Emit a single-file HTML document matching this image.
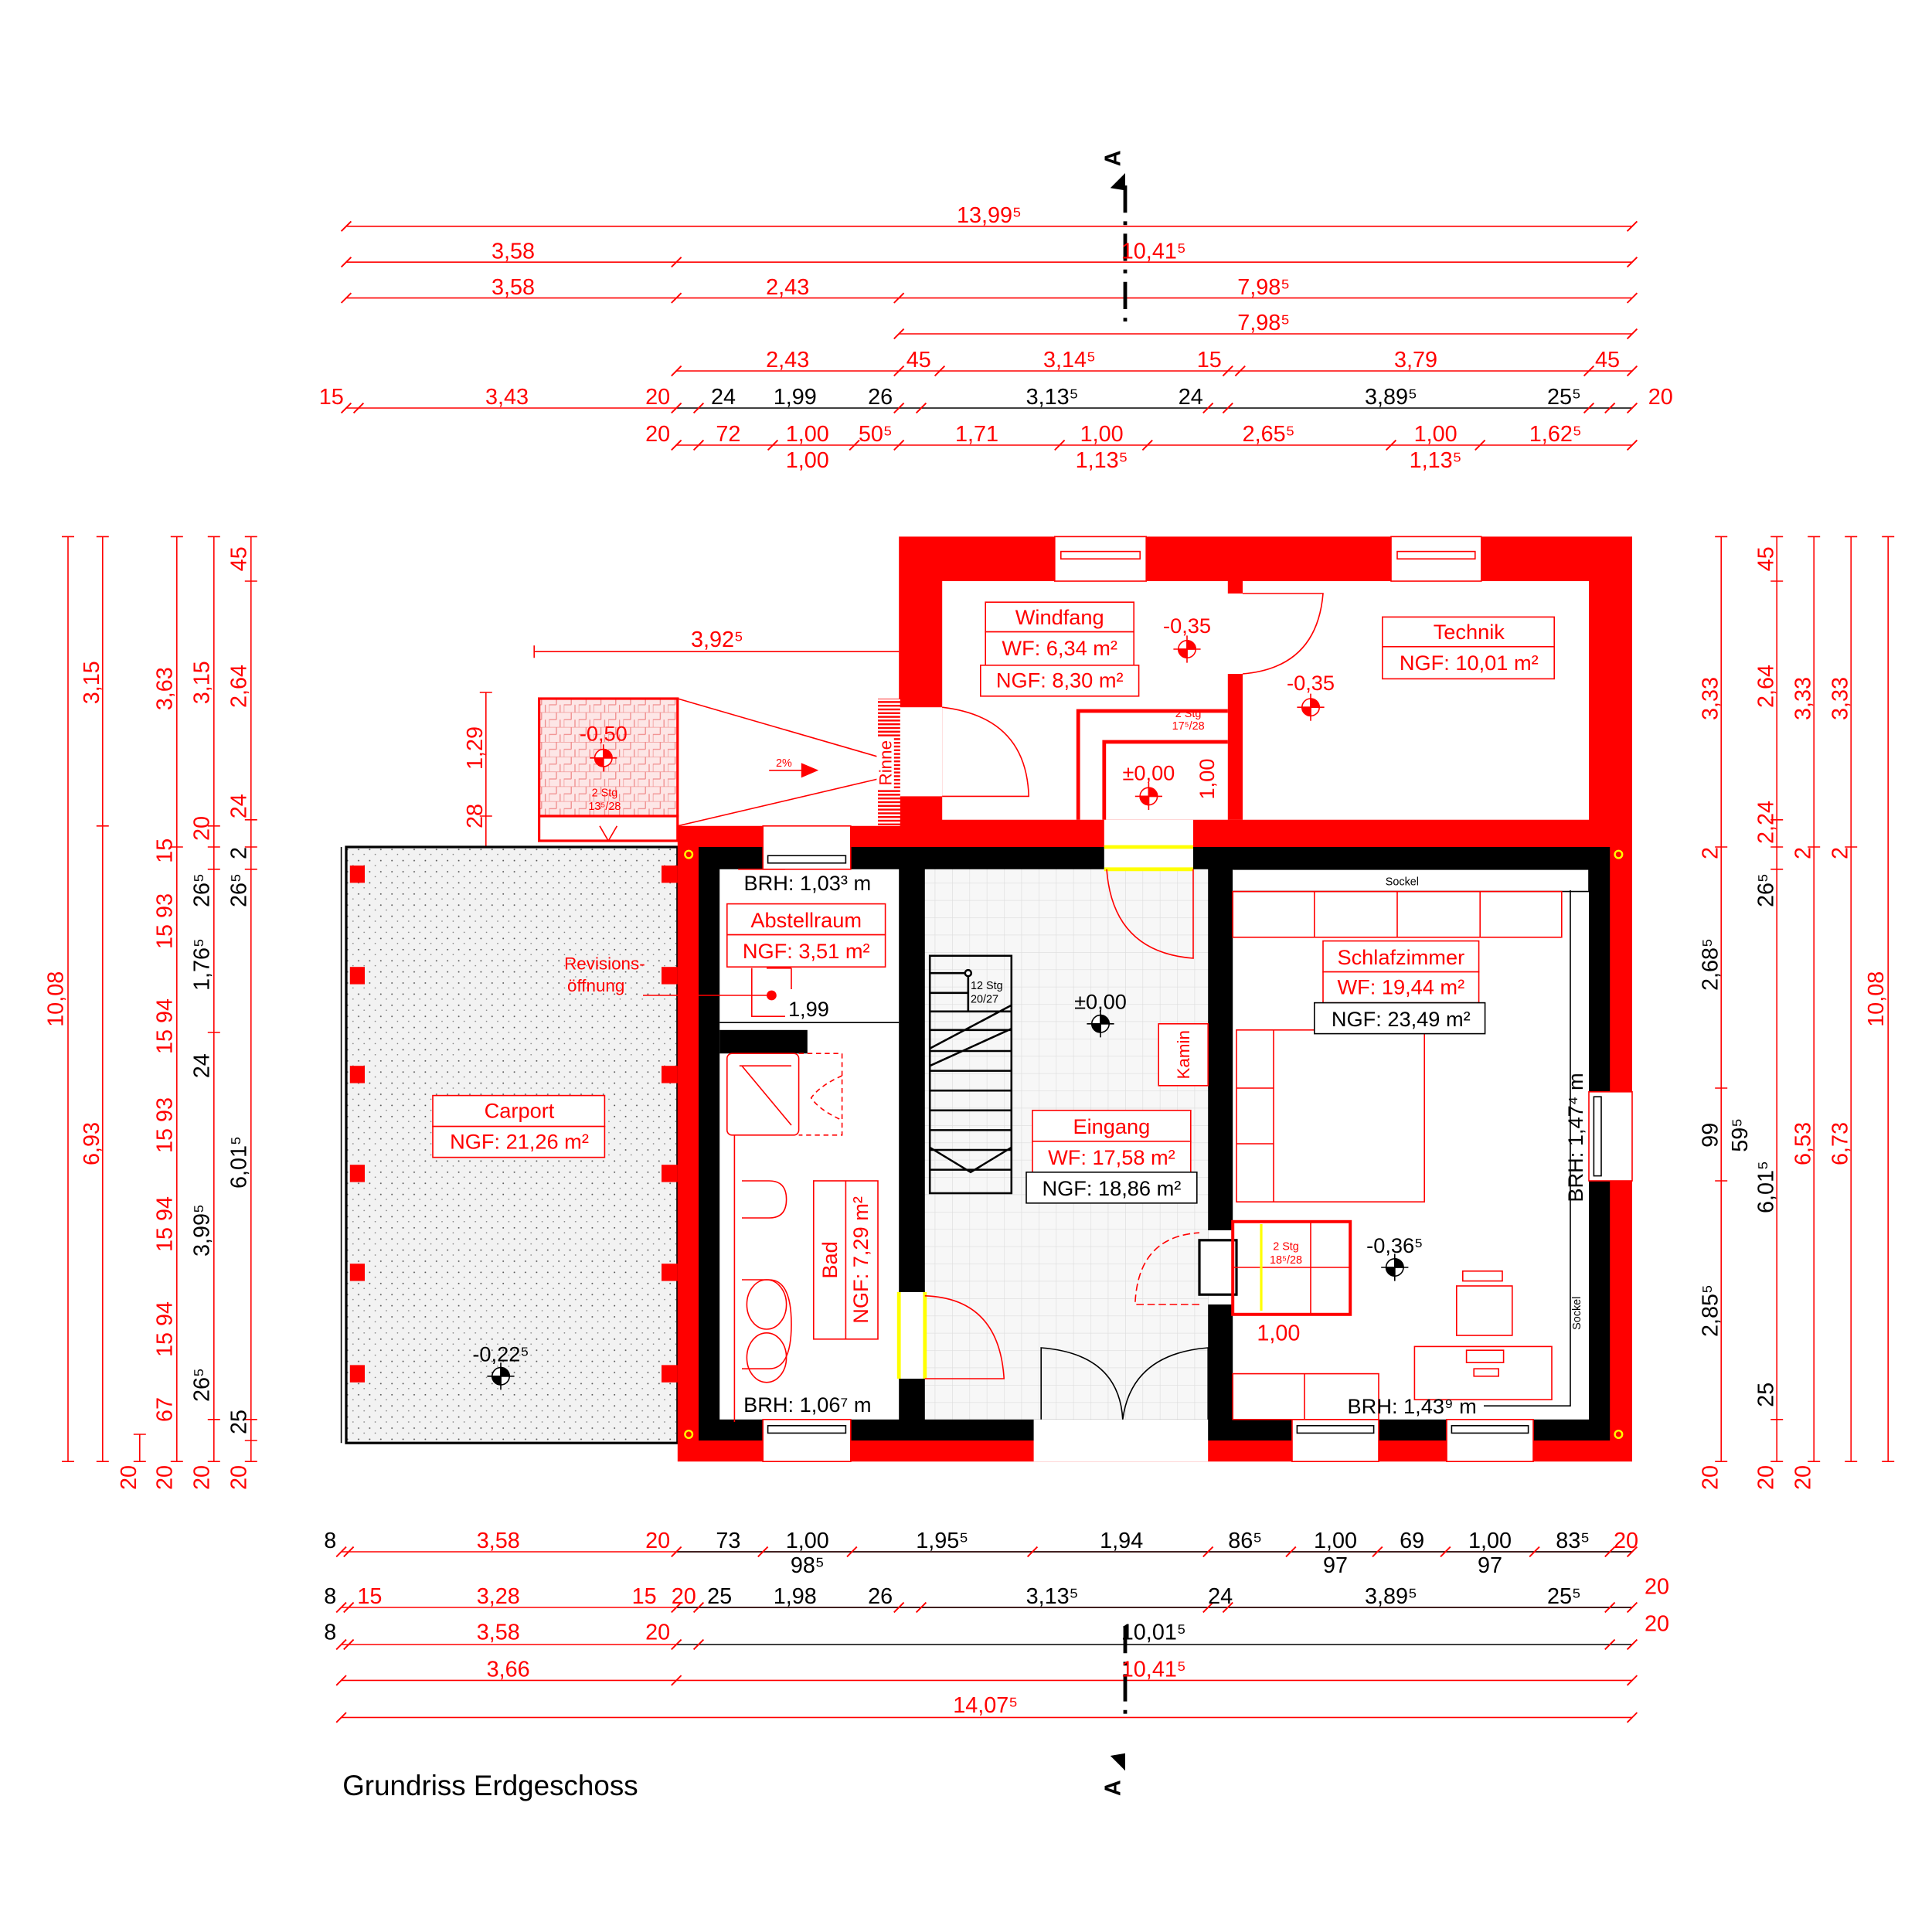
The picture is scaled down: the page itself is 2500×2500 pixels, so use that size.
<!DOCTYPE html>
<html><head><meta charset="utf-8"><style>html,body{margin:0;padding:0;background:#fff}svg{display:block}text{font-family:"Liberation Sans",sans-serif}</style></head><body>
<svg xmlns="http://www.w3.org/2000/svg" width="2500" height="2500" viewBox="0 0 1562.5 1562.5">
<defs>
<pattern id="dots" width="9" height="9" patternUnits="userSpaceOnUse"><rect width="9" height="9" fill="#f2f2f2"/><circle cx="2" cy="3" r="0.6" fill="#555"/><circle cx="6.5" cy="7" r="0.5" fill="#777"/></pattern>
<pattern id="tile" width="14" height="14" patternUnits="userSpaceOnUse"><rect width="14" height="14" fill="#f7f7f7"/><path d="M0 0H14M0 0V14" stroke="#ddd" stroke-width="0.8"/></pattern>
<pattern id="pink" width="12" height="12" patternUnits="userSpaceOnUse"><rect width="12" height="12" fill="#fde6e6"/><path d="M0 0H12M0 6H6M6 0V6M0 6V12M9 6V12" stroke="#f08a8a" stroke-width="0.8"/></pattern>
<pattern id="rinne" width="12" height="3" patternUnits="userSpaceOnUse"><rect width="12" height="3" fill="#fff"/><rect width="12" height="1.5" fill="red"/></pattern>
<g id="m" stroke="#000" stroke-width="1"><circle r="7" fill="#fff"/><path d="M-11 0H11M0-11V11"/><path d="M0-7A7 7 0 0 1 7 0H0ZM0 7A7 7 0 0 1-7 0H0Z" fill="#000"/></g>
<g id="r" stroke="red" stroke-width="1"><circle r="7" fill="#fff"/><path d="M-11 0H11M0-11V11"/><path d="M0-7A7 7 0 0 1 7 0H0ZM0 7A7 7 0 0 1-7 0H0Z" fill="red"/></g>
</defs>
<g fill="none" stroke="red" stroke-width="1">
<path d="M280 183H1320M280 212H1320M280 241H1320M727 270H1320M547 300H1320M280 330H547M547 360H1320"/>
<path d="M547 330H1320" stroke="#000"/>
<path d="M276 1255H1320M276 1300H1320M276 1330H547M276 1359H1320M276 1389H1320"/>
<path d="M547 1255H1320M547 1300H1320M547 1330H1320" stroke="#000"/>
<g stroke-width="1.2">
<path d="M276 187l8-8M1316 187l8-8M276 216l8-8M543 216l8-8M1316 216l8-8M276 245l8-8M543 245l8-8M723 245l8-8M1316 245l8-8M723 274l8-8M1316 274l8-8M543 304l8-8M723 304l8-8M756 304l8-8M989 304l8-8M999 304l8-8M1281 304l8-8M1316 304l8-8M276 334l8-8M286 334l8-8M543 334l8-8M561 334l8-8M723 334l8-8M741 334l8-8M973 334l8-8M989 334l8-8M1281 334l8-8M1298 334l8-8M1316 334l8-8M543 364l8-8M561 364l8-8M621 364l8-8M687 364l8-8M723 364l8-8M853 364l8-8M924 364l8-8M1121 364l8-8M1193 364l8-8M1316 364l8-8"/>
<path d="M272 1259l8-8M278 1259l8-8M543 1259l8-8M613 1259l8-8M685 1259l8-8M831 1259l8-8M973 1259l8-8M1040 1259l8-8M1110 1259l8-8M1165 1259l8-8M1237 1259l8-8M1298 1259l8-8M1316 1259l8-8M272 1304l8-8M278 1304l8-8M543 1304l8-8M561 1304l8-8M723 1304l8-8M741 1304l8-8M973 1304l8-8M989 1304l8-8M1298 1304l8-8M1316 1304l8-8M272 1334l8-8M278 1334l8-8M543 1334l8-8M561 1334l8-8M1298 1334l8-8M1316 1334l8-8M272 1363l8-8M543 1363l8-8M1316 1363l8-8M272 1393l8-8M1316 1393l8-8"/>
</g>
<path d="M55 434V1182M83 434V1182M113 1160V1182M143 434V1182M173 434V1182M203 434V1182"/>
<path d="M50 434h10M50 1182h10M78 434h10M78 668h10M78 1182h10M138 434h10M138 685h10M138 1182h10M168 434h10M168 668h10M168 685h10M168 703h10M168 835h10M168 1148h10M168 1182h10M198 434h10M198 470h10M198 663h10M198 685h10M198 703h10M198 1148h10M198 1165h10M198 1182h10M108 1160h10M108 1182h10"/>
<path d="M1392 434V1182M1437 434V1182M1467 434V1182M1497 434V1182M1527 434V1182"/>
<path d="M1387 434h10M1387 685h10M1387 880h10M1387 955h10M1387 1182h10M1432 434h10M1432 470h10M1432 663h10M1432 685h10M1432 703h10M1432 1148h10M1432 1182h10M1462 434h10M1462 685h10M1462 1182h10M1492 434h10M1492 685h10M1492 1182h10M1522 434h10M1522 1182h10"/>
<path d="M393 560V685M388 560h10M388 660h10M388 685h10"/>
<path d="M432 527H727M432 522v10"/>
</g>
<path d="M910 150V260M910 1315V1390" stroke="#000" stroke-width="3" stroke-dasharray="22,7,3,7"/>
<path d="M898 152l12-12v14zM898 1420l12 12v-14z" fill="#000"/>
<text x="906" y="128" font-size="18" font-weight="bold" transform="rotate(-90 906 128)" text-anchor="middle">A</text>
<text x="906" y="1446" font-size="18" font-weight="bold" transform="rotate(-90 906 1446)" text-anchor="middle">A</text>

<rect x="280" y="685" width="268" height="482" fill="url(#dots)" stroke="#000" stroke-width="2"/>
<path d="M276 685V1167" stroke="#000"/>
<g fill="red"><rect x="283" y="700" width="12" height="14"/><rect x="283" y="782" width="12" height="14"/><rect x="283" y="862" width="12" height="14"/><rect x="283" y="942" width="12" height="14"/><rect x="283" y="1022" width="12" height="14"/><rect x="283" y="1104" width="12" height="14"/>
<rect x="535" y="700" width="13" height="14"/><rect x="535" y="782" width="13" height="14"/><rect x="535" y="862" width="13" height="14"/><rect x="535" y="942" width="13" height="14"/><rect x="535" y="1022" width="13" height="14"/><rect x="535" y="1104" width="13" height="14"/></g>

<rect x="436" y="565" width="112" height="95" fill="url(#pink)" stroke="red" stroke-width="2"/>
<rect x="436" y="660" width="112" height="20" fill="#fff" stroke="red" stroke-width="2"/>
<path d="M548 565L710 612M548 668L710 630M485 668l7 12 7-12" fill="none" stroke="red"/>
<path d="M622 623h30" stroke="red"/><path d="M648 617l14 6-14 6z" fill="red"/>
<text x="634" y="620" font-size="9" fill="red" text-anchor="middle">2%</text>

<path d="M727 434H1320V685H727Z M762 470V663H1285V470Z" fill="red" fill-rule="evenodd"/>
<rect x="993" y="470" width="12" height="10" fill="red"/>
<rect x="993" y="545" width="12" height="118" fill="red"/>
<rect x="853" y="434" width="74" height="36" fill="#fff" stroke="red"/>
<rect x="1125" y="434" width="73" height="36" fill="#fff" stroke="red"/>
<rect x="858" y="446" width="64" height="6" fill="#fff" stroke="red"/><rect x="1130" y="446" width="63" height="6" fill="#fff" stroke="red"/>
<rect x="727" y="572" width="35" height="72" fill="#fff"/>
<path d="M762 572Q830 580 832 644H762" fill="none" stroke="red"/>
<path d="M1005 545Q1065 540 1070 480H1005" fill="none" stroke="red"/>
<path d="M872 663V575H993M893 663V600H993" fill="none" stroke="red" stroke-width="3"/>

<path d="M548 668H1320V1182H548Z" fill="red"/>
<rect x="565" y="685" width="737" height="480" fill="#000"/>
<rect x="582" y="703" width="145" height="445" fill="#fff"/>
<rect x="748" y="703" width="229" height="445" fill="url(#tile)"/>
<rect x="997" y="703" width="288" height="445" fill="#fff"/>
<rect x="582" y="833" width="71" height="19" fill="#000"/>
<rect x="893" y="663" width="72" height="40" fill="#fff"/>
<path d="M893 685H965M893 703H965" stroke="#ff0" stroke-width="3"/>
<rect x="836" y="1148" width="141" height="34" fill="#fff"/>
<rect x="727" y="1045" width="21" height="70" fill="#fff"/>
<path d="M727 1045V1115M748 1045V1115" stroke="#ff0" stroke-width="3"/>
<rect x="977" y="995" width="20" height="60" fill="#fff"/>
<rect x="970" y="1003" width="30" height="44" fill="#fff" stroke="#000" stroke-width="2"/>
<g fill="#fff" stroke="red"><rect x="617" y="668" width="71" height="35"/><rect x="617" y="1148" width="71" height="34"/><rect x="1045" y="1148" width="70" height="34"/><rect x="1170" y="1148" width="70" height="34"/><rect x="1285" y="883" width="35" height="72"/></g>
<g fill="none" stroke="#000"><rect x="621" y="692" width="63" height="6"/><rect x="621" y="1153" width="63" height="6"/><rect x="1049" y="1153" width="62" height="6"/><rect x="1174" y="1153" width="62" height="6"/><rect x="1289" y="887" width="6" height="64"/></g>
<g fill="none" stroke="#ff0" stroke-width="1.5"><circle cx="557" cy="691" r="3"/><circle cx="1309" cy="691" r="3"/><circle cx="557" cy="1160" r="3"/><circle cx="1309" cy="1160" r="3"/></g>
<!-- Rinne -->
<rect x="710" y="565" width="18" height="103" fill="url(#rinne)"/>
<rect x="709" y="596" width="14" height="42" fill="#fff"/>
<g fill="none" stroke="red">
<path d="M965 703V775Q900 770 895 703"/>
<path d="M748 1115H812Q808 1050 748 1048"/>
<path d="M970 1055H918Q920 1000 970 997" stroke-dasharray="6,3"/>
<rect x="997" y="988" width="95" height="75" stroke-width="2.5"/><path d="M997 1025H1092M1060 988V1063"/>
<path d="M1020 990V1060" stroke="#ff0" stroke-width="2"/>
</g>
<path d="M842 1148V1090Q905 1095 908 1148M977 1148V1090Q915 1095 908 1148" fill="none" stroke="#000"/>
<g fill="none" stroke="#000" stroke-width="1.6">
<rect x="752" y="773" width="66" height="192"/>
<path d="M752 787H783M752 803H783M752 818H818M752 833H818M752 850H818M752 866H818M752 882H818M752 898H818M752 914H818M752 930H818M752 946H818M783 787V818M752 848L818 813M752 862L818 832M752 928L785 948L818 928"/>
<circle cx="783" cy="787" r="2.5" fill="#fff"/>
</g>
<text x="785" y="800" font-size="9">12 Stg</text><text x="785" y="811" font-size="9">20/27</text>
<g fill="none" stroke="red">
<rect x="588" y="852" width="58" height="66" rx="4"/><path d="M600 862L640 910M598 862H640"/>
<path d="M646 852h35v66h-35M681 870q-18 8-25 18q7 10 25 18" stroke-dasharray="4,3"/>
<path d="M594 918V1150M600 955h22q14 0 14 15q0 15-14 15h-22M600 1035h22q18 0 18 36q0 36-18 36h-22"/>
<ellipse cx="620" cy="1055" rx="16" ry="20"/><ellipse cx="620" cy="1098" rx="16" ry="20"/>
<rect x="658" y="955" width="52" height="128"/><path d="M684 955V1083"/>
<path d="M597 703H635M608 783V822H635M620 783H640M640 783V800"/>
</g>
<path d="M582 827H727" stroke="#000"/>
<circle cx="624" cy="805" r="4" fill="red"/><path d="M520 805H620" stroke="red"/>
<path d="M997 703H1285V721H997" fill="#fff" stroke="#000"/>
<g fill="none" stroke="red">
<rect x="997" y="721" width="266" height="37"/><path d="M1063 721V758M1130 721V758M1197 721V758"/>
<rect x="1000" y="833" width="152" height="139"/><path d="M1030 833V972M1000 925H1030M1000 880H1030"/>
<rect x="1178" y="1040" width="45" height="40"/><rect x="1183" y="1028" width="32" height="8"/>
<rect x="1144" y="1089" width="111" height="43"/><rect x="997" y="1111" width="118" height="37"/><path d="M1055 1111V1148"/>
<rect x="1186" y="1092" width="30" height="10"/><rect x="1192" y="1107" width="20" height="6"/>
</g>
<path d="M1270 720V1137H1200" fill="none" stroke="#000"/>
<g font-size="17" fill="red" text-anchor="middle">
<rect x="797" y="487" width="120" height="24" fill="#fff" stroke="red"/><rect x="797" y="511" width="120" height="27" fill="#fff" stroke="red"/><rect x="793" y="538" width="128" height="25" fill="#fff" stroke="red"/>
<text x="857" y="505">Windfang</text><text x="857" y="530">WF: 6,34 m²</text><text x="857" y="556">NGF: 8,30 m²</text>
<rect x="1118" y="499" width="139" height="24" fill="#fff" stroke="red"/><rect x="1118" y="523" width="139" height="26" fill="#fff" stroke="red"/>
<text x="1188" y="517">Technik</text><text x="1188" y="542">NGF: 10,01 m²</text>
<rect x="588" y="731" width="128" height="25" fill="#fff" stroke="red"/><rect x="588" y="756" width="128" height="26" fill="#fff" stroke="red"/>
<text x="652" y="750">Abstellraum</text><text x="652" y="775">NGF: 3,51 m²</text>
<rect x="1070" y="761" width="126" height="25" fill="#fff" stroke="red"/><rect x="1070" y="786" width="126" height="25" fill="#fff" stroke="red"/>
<text x="1133" y="780">Schlafzimmer</text><text x="1133" y="804">WF: 19,44 m²</text>
<rect x="835" y="898" width="128" height="25" fill="#fff" stroke="red"/><rect x="835" y="923" width="128" height="25" fill="#fff" stroke="red"/>
<text x="899" y="917">Eingang</text><text x="899" y="942">WF: 17,58 m²</text>
<rect x="350" y="886" width="139" height="25" fill="#fff" stroke="red"/><rect x="350" y="911" width="139" height="25" fill="#fff" stroke="red"/>
<text x="420" y="904">Carport</text><text x="420" y="929">NGF: 21,26 m²</text>
<rect x="937" y="828" width="40" height="50" fill="#fff" stroke="red"/>
<text x="962" y="853" font-size="14" transform="rotate(-90 962 853)">Kamin</text>
<text x="677" y="1019" font-size="17" transform="rotate(-90 677 1019)">Bad</text>
<text x="702" y="1019" font-size="17" transform="rotate(-90 702 1019)">NGF: 7,29 m²</text>
<text x="489" y="784" font-size="14">Revisions-</text><text x="482" y="802" font-size="14">öffnung</text>
<text x="721" y="617" font-size="14" transform="rotate(-90 721 617)">Rinne</text>
<text x="960" y="512">-0,35</text><text x="1060" y="558">-0,35</text><text x="929" y="631">±0,00</text>
<text x="488" y="599">-0,50</text>
<text x="982" y="630" font-size="17" transform="rotate(-90 982 630)">1,00</text>
<text x="1034" y="1084" font-size="18">1,00</text>
<text x="961" y="580" font-size="9">2 Stg</text><text x="961" y="590" font-size="9">17⁵/28</text>
<text x="489" y="644" font-size="9">2 Stg</text><text x="489" y="655" font-size="9">13⁵/28</text>
<text x="1040" y="1011" font-size="9">2 Stg</text><text x="1040" y="1022" font-size="9">18⁵/28</text>
</g>
<g font-size="17" fill="#000" text-anchor="middle">
<rect x="1063" y="811" width="138" height="25" fill="#fff" stroke="#000"/><text x="1133" y="830">NGF: 23,49 m²</text>
<rect x="830" y="948" width="138" height="25" fill="#fff" stroke="#000"/><text x="899" y="967">NGF: 18,86 m²</text>
<text x="653" y="720">BRH: 1,03³ m</text><text x="653" y="1142">BRH: 1,06⁷ m</text><text x="1142" y="1143">BRH: 1,43⁹ m</text>
<text x="1280" y="920" transform="rotate(-90 1280 920)">BRH: 1,47⁴ m</text>
<text x="654" y="822">1,99</text>
<text x="890" y="816">±0,00</text><text x="1128" y="1013">-0,36⁵</text><text x="405" y="1101">-0,22⁵</text>
<text x="1134" y="716" font-size="9">Sockel</text><text x="1278" y="1062" font-size="9" transform="rotate(-90 1278 1062)">Sockel</text>
</g>
<use href="#m" x="890" y="828"/><use href="#m" x="1128" y="1025"/><use href="#m" x="405" y="1113"/>
<use href="#r" x="960" y="525"/><use href="#r" x="1060" y="572"/><use href="#r" x="929" y="644"/><use href="#r" x="488" y="613"/>
<g font-size="18" fill="red" text-anchor="middle">
<text x="800" y="180">13,99⁵</text>
<text x="415" y="209">3,58</text><text x="933" y="209">10,41⁵</text>
<text x="415" y="238">3,58</text><text x="637" y="238">2,43</text><text x="1022" y="238">7,98⁵</text>
<text x="1022" y="267">7,98⁵</text>
<text x="637" y="297">2,43</text><text x="743" y="297">45</text><text x="865" y="297">3,14⁵</text><text x="978" y="297">15</text><text x="1145" y="297">3,79</text><text x="1300" y="297">45</text>
<text x="268" y="327">15</text><text x="410" y="327">3,43</text><text x="532" y="327">20</text><text x="1343" y="327">20</text>
<text x="532" y="357">20</text><text x="589" y="357">72</text><text x="653" y="357">1,00</text><text x="708" y="357">50⁵</text><text x="790" y="357">1,71</text><text x="891" y="357">1,00</text><text x="1026" y="357">2,65⁵</text><text x="1161" y="357">1,00</text><text x="1258" y="357">1,62⁵</text>
<text x="653" y="378">1,00</text><text x="891" y="378">1,13⁵</text><text x="1161" y="378">1,13⁵</text>
<text x="580" y="523">3,92⁵</text>
<text x="403" y="1252">3,58</text><text x="532" y="1252">20</text><text x="1315" y="1252">20</text>
<text x="299" y="1297">15</text><text x="403" y="1297">3,28</text><text x="521" y="1297">15</text><text x="553" y="1297">20</text><text x="1340" y="1289">20</text>
<text x="403" y="1326">3,58</text><text x="532" y="1326">20</text><text x="1340" y="1319">20</text>
<text x="411" y="1356">3,66</text><text x="933" y="1356">10,41⁵</text>
<text x="797" y="1385">14,07⁵</text>
</g>
<g font-size="18" fill="#000" text-anchor="middle">
<text x="585" y="327">24</text><text x="643" y="327">1,99</text><text x="712" y="327">26</text><text x="851" y="327">3,13⁵</text><text x="963" y="327">24</text><text x="1125" y="327">3,89⁵</text><text x="1265" y="327">25⁵</text>
<text x="267" y="1252">8</text><text x="589" y="1252">73</text><text x="653" y="1252">1,00</text><text x="762" y="1252">1,95⁵</text><text x="907" y="1252">1,94</text><text x="1007" y="1252">86⁵</text><text x="1080" y="1252">1,00</text><text x="1142" y="1252">69</text><text x="1205" y="1252">1,00</text><text x="1272" y="1252">83⁵</text>
<text x="653" y="1272">98⁵</text><text x="1080" y="1272">97</text><text x="1205" y="1272">97</text>
<text x="267" y="1297">8</text><text x="582" y="1297">25</text><text x="643" y="1297">1,98</text><text x="712" y="1297">26</text><text x="851" y="1297">3,13⁵</text><text x="987" y="1297">24</text><text x="1125" y="1297">3,89⁵</text><text x="1265" y="1297">25⁵</text>
<text x="267" y="1326">8</text><text x="933" y="1326">10,01⁵</text>
</g>
<g font-size="18" fill="red" text-anchor="middle">
<text transform="translate(51 808) rotate(-90)">10,08</text>
<text transform="translate(80 552) rotate(-90)">3,15</text><text transform="translate(80 925) rotate(-90)">6,93</text>
<text transform="translate(139 557) rotate(-90)">3,63</text><text transform="translate(139 688) rotate(-90)">15</text>
<text transform="translate(139 745) rotate(-90)">15 93</text><text transform="translate(139 830) rotate(-90)">15 94</text><text transform="translate(139 910) rotate(-90)">15 93</text><text transform="translate(139 990) rotate(-90)">15 94</text><text transform="translate(139 1075) rotate(-90)">15 94</text><text transform="translate(139 1140) rotate(-90)">67</text><text transform="translate(139 1195) rotate(-90)">20</text>
<text transform="translate(110 1195) rotate(-90)">20</text>
<text transform="translate(169 552) rotate(-90)">3,15</text><text transform="translate(169 670) rotate(-90)">20</text><text transform="translate(169 1195) rotate(-90)">20</text>
<text transform="translate(199 452) rotate(-90)">45</text><text transform="translate(199 555) rotate(-90)">2,64</text><text transform="translate(199 652) rotate(-90)">24</text><text transform="translate(199 1195) rotate(-90)">20</text>
<text transform="translate(390 605) rotate(-90)">1,29</text><text transform="translate(390 660) rotate(-90)">28</text>
<text transform="translate(1389 565) rotate(-90)">3,33</text><text transform="translate(1434 452) rotate(-90)">45</text><text transform="translate(1434 555) rotate(-90)">2,64</text><text transform="translate(1464 565) rotate(-90)">3,33</text><text transform="translate(1494 565) rotate(-90)">3,33</text>
<text transform="translate(1434 665) rotate(-90)">2,24</text><text transform="translate(1389 690) rotate(-90)">2</text><text transform="translate(1464 690) rotate(-90)">2</text><text transform="translate(1494 690) rotate(-90)">2</text>
<text transform="translate(1464 925) rotate(-90)">6,53</text><text transform="translate(1494 925) rotate(-90)">6,73</text><text transform="translate(1523 808) rotate(-90)">10,08</text>
<text transform="translate(1389 1195) rotate(-90)">20</text><text transform="translate(1434 1195) rotate(-90)">20</text><text transform="translate(1464 1195) rotate(-90)">20</text>
</g>
<g font-size="18" fill="#000" text-anchor="middle">
<text transform="translate(169 720) rotate(-90)">26⁵</text><text transform="translate(169 780) rotate(-90)">1,76⁵</text><text transform="translate(169 862) rotate(-90)">24</text><text transform="translate(169 995) rotate(-90)">3,99⁵</text><text transform="translate(169 1120) rotate(-90)">26⁵</text>
<text transform="translate(199 690) rotate(-90)">2</text><text transform="translate(199 720) rotate(-90)">26⁵</text><text transform="translate(199 940) rotate(-90)">6,01⁵</text><text transform="translate(199 1150) rotate(-90)">25</text>
<text transform="translate(1389 780) rotate(-90)">2,68⁵</text><text transform="translate(1389 918) rotate(-90)">99</text><text transform="translate(1413 918) rotate(-90)">59⁵</text><text transform="translate(1389 1060) rotate(-90)">2,85⁵</text>
<text transform="translate(1434 720) rotate(-90)">26⁵</text><text transform="translate(1434 960) rotate(-90)">6,01⁵</text><text transform="translate(1434 1128) rotate(-90)">25</text>
</g>
<text x="277" y="1452" font-size="23" fill="#000">Grundriss Erdgeschoss</text>
</svg>
</body></html>
